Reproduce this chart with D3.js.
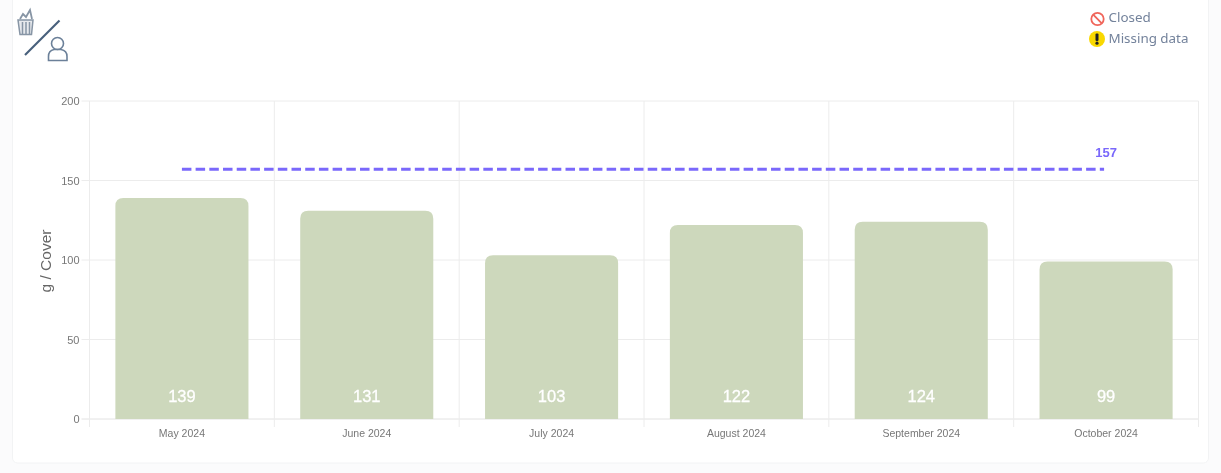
<!DOCTYPE html>
<html lang="en">
<head>
    <meta charset="UTF-8">
    <title>g / Cover</title>
    <style>
        body { margin: 0; background: #fbfbfc; }
        svg { display: block; filter: blur(0.45px); }
        text { font-family: 'Liberation Sans', Arial, sans-serif; }
        .domain { display: none; }
    </style>
</head>
<body>
    <svg width="1221" height="473"></svg>
    <script src="https://d3js.org/d3.v7.min.js"></script>
    <script>
        var months = ["May 2024", "June 2024", "July 2024", "August 2024", "September 2024", "October 2024"];
        var values = [139, 131, 103, 122, 124, 99];
        var targetValue = 157;
        var yTicks = [0, 50, 100, 150, 200];
        var legendLabels = ["Closed", "Missing data"];

        var svg = d3.select("svg"),
            margin = {top: 101, right: 22.5, bottom: 54, left: 89.5},
            width = +svg.attr("width") - margin.left - margin.right,
            height = +svg.attr("height") - margin.top - margin.bottom;

        // White card behind everything
        svg.append("rect")
            .attr("x", 12.5).attr("y", -6)
            .attr("width", 1196).attr("height", 469)
            .attr("rx", 5)
            .attr("fill", "#fff")
            .attr("stroke", "#f2f3f4");

        var x = d3.scaleBand().domain(months).range([0, width]).paddingInner(0.28).paddingOuter(0.14),
            y = d3.scaleLinear().domain([0, 200]).range([height, 0]);

        // edges of the month columns, used for vertical grid lines
        var step = x.step();
        var edges = d3.range(months.length + 1).map(function(i) {
            return i === months.length ? width : x(months[i]) - (step - x.bandwidth()) / 2;
        });

        var g = svg.append("g")
            .attr("transform", "translate(" + margin.left + "," + margin.top + ")");

        // Grid
        g.selectAll(".hgrid").data(yTicks).enter().append("line")
            .attr("x1", -8).attr("x2", width)
            .attr("y1", function(d) { return y(d); })
            .attr("y2", function(d) { return y(d); })
            .attr("stroke", function(d) { return d === 0 ? "#e2e2e2" : "#ececec"; });

        g.selectAll(".vgrid").data(edges).enter().append("line")
            .attr("x1", function(d) { return d; })
            .attr("x2", function(d) { return d; })
            .attr("y1", 0).attr("y2", height + 8)
            .attr("stroke", "#ececec");

        // Axes
        var yAxis = g.append("g")
            .call(d3.axisLeft(y).tickValues(yTicks).tickSize(0).tickPadding(10));
        yAxis.selectAll("text").attr("font-size", 11).attr("fill", "#777");

        var xAxis = g.append("g")
            .attr("transform", "translate(0," + height + ")")
            .call(d3.axisBottom(x).tickSize(0).tickPadding(11));
        xAxis.selectAll("text").attr("font-size", 10.5).attr("fill", "#777");

        g.append("text")
            .attr("transform", "translate(-39," + (height / 2 + 1) + ") rotate(-90)")
            .attr("text-anchor", "middle")
            .attr("font-size", 15.5)
            .attr("fill", "#666")
            .text("g / Cover");

        // Bars, rounded on top only
        var r = 8;
        function barPath(d, i) {
            var x0 = x(months[i]), x1 = x0 + x.bandwidth(), y0 = y(d), b = y(0);
            return "M" + x0 + "," + b + "V" + (y0 + r) + "Q" + x0 + "," + y0 + " " + (x0 + r) + "," + y0 +
                "H" + (x1 - r) + "Q" + x1 + "," + y0 + " " + x1 + "," + (y0 + r) + "V" + b + "Z";
        }
        g.selectAll(".bar").data(values).enter().append("path")
            .attr("class", "bar")
            .attr("d", barPath)
            .attr("fill", "#cdd8bc");

        g.selectAll(".bar-label").data(values).enter().append("text")
            .attr("x", function(d, i) { return x(months[i]) + x.bandwidth() / 2; })
            .attr("y", y(0) - 17)
            .attr("text-anchor", "middle")
            .attr("font-size", 16.5)
            .attr("fill", "#fff")
            .attr("stroke", "#fff")
            .attr("stroke-width", 0.3)
            .text(function(d) { return d; });

        // Target line
        g.append("line")
            .attr("x1", x(months[0]) + x.bandwidth() / 2)
            .attr("x2", x(months[months.length - 1]) + x.bandwidth() / 2 - 2)
            .attr("y1", y(targetValue)).attr("y2", y(targetValue))
            .attr("stroke", "#7a68fb")
            .attr("stroke-width", 3)
            .attr("stroke-dasharray", "9.5 4.2");

        g.append("text")
            .attr("x", x(months[months.length - 1]) + x.bandwidth() / 2)
            .attr("y", y(targetValue) - 12)
            .attr("text-anchor", "middle")
            .attr("font-size", 13)
            .attr("font-weight", "bold")
            .attr("fill", "#7a68fb")
            .text(targetValue);

        // Legend
        var legend = svg.append("g");
        legend.selectAll("text").data(legendLabels).enter().append("text")
            .attr("x", 1108.5)
            .attr("y", function(d, i) { return 22 + i * 21; })
            .attr("font-size", 13.4)
            .attr("fill", "#73829b")
            .style("font-family", "'Noto Sans', sans-serif")
            .text(function(d) { return d; });

        var closedIcon = legend.append("g").attr("transform", "translate(1097.5,19)");
        closedIcon.append("circle").attr("r", 6.2).attr("fill", "none").attr("stroke", "#f0655a").attr("stroke-width", 1.8);
        closedIcon.append("line").attr("x1", -4.3).attr("y1", -4.3).attr("x2", 4.3).attr("y2", 4.3).attr("stroke", "#f0655a").attr("stroke-width", 1.8);

        var missingIcon = legend.append("g").attr("transform", "translate(1097,39)");
        missingIcon.append("circle").attr("r", 8).attr("fill", "#f9d800");
        missingIcon.append("rect").attr("x", -1.5).attr("y", -5.5).attr("width", 3).attr("height", 7.5).attr("rx", 1).attr("fill", "#222");
        missingIcon.append("circle").attr("cy", 4.2).attr("r", 1.6).attr("fill", "#222");

        // Icon top left: bin over person
        var icon = svg.append("g");
        icon.append("path")
            .attr("d", "M18,20 H33 L31.5,34.5 H20 Z M22.5,22 V34 M26,22 V34 M29.5,22 V34")
            .attr("fill", "#e6e9ed").attr("stroke", "#8795a5").attr("stroke-width", 1.5);
        icon.append("path")
            .attr("d", "M20,19 L23,14 L26,17 L30,10 L32,19")
            .attr("fill", "none").attr("stroke", "#8795a5").attr("stroke-width", 1.8);
        icon.append("line")
            .attr("x1", 25).attr("y1", 55).attr("x2", 59.5).attr("y2", 20.5)
            .attr("stroke", "#48607c").attr("stroke-width", 2.2);
        icon.append("circle").attr("cx", 57.5).attr("cy", 43.5).attr("r", 6)
            .attr("fill", "none").attr("stroke", "#6b8099").attr("stroke-width", 1.6);
        icon.append("path")
            .attr("d", "M48.5,60.5 V56.5 Q48.5,50.5 54,49.5 H61 Q67,50.5 67,56.5 V60.5 Z")
            .attr("fill", "none").attr("stroke", "#6b8099").attr("stroke-width", 1.6);
    </script>
</body>
</html>
